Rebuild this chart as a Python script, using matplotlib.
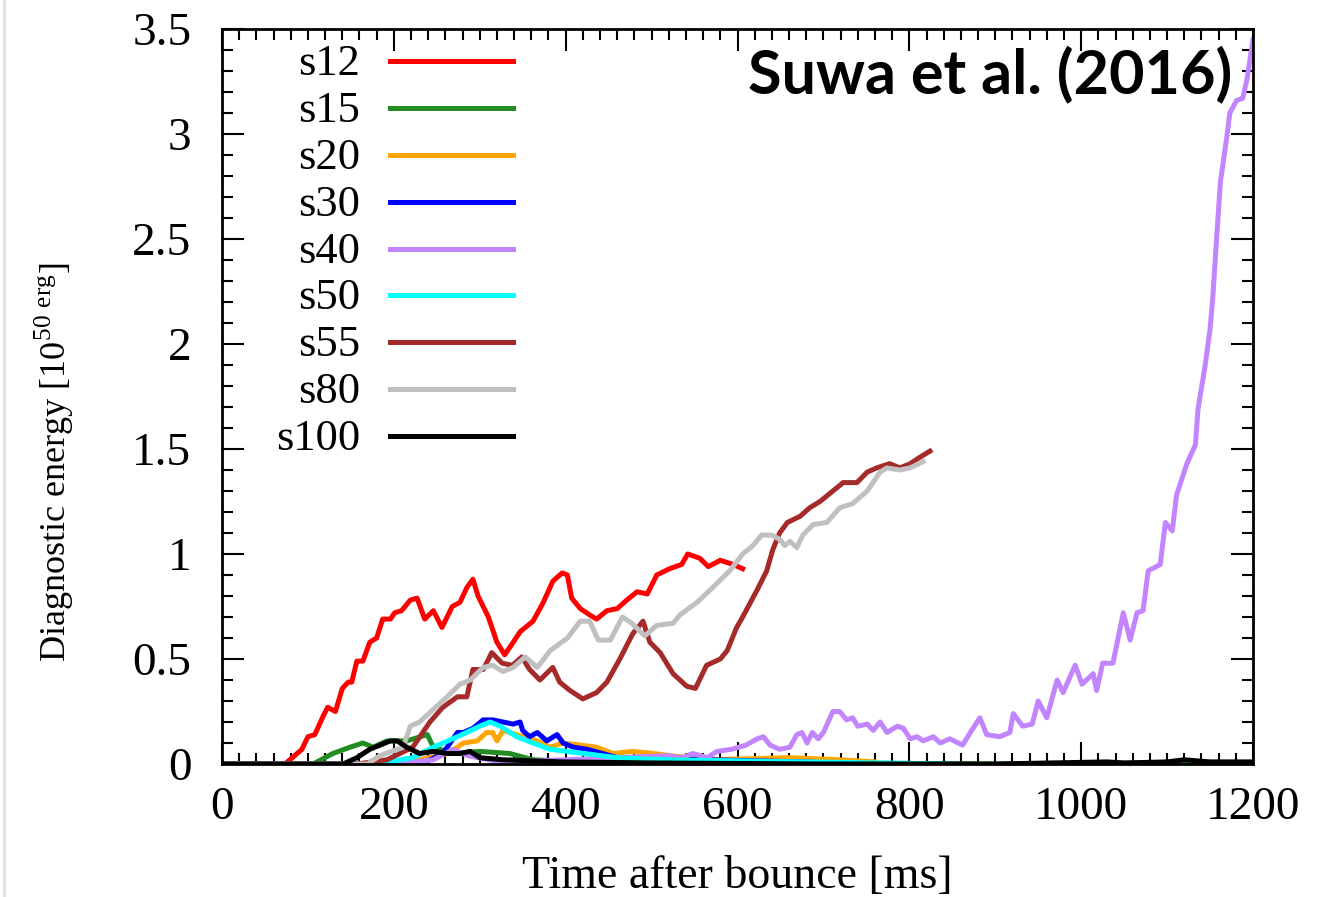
import matplotlib
matplotlib.use('Agg')
import matplotlib.pyplot as plt
from matplotlib.lines import Line2D
from matplotlib.ticker import MultipleLocator

plt.rcParams['font.family'] = ['Liberation Serif', 'DejaVu Serif']
plt.rcParams['mathtext.fontset'] = 'custom'
plt.rcParams['mathtext.rm'] = 'Liberation Serif'

# Diagnostic energy [1e50 erg] vs time after bounce [ms]
s12_t = [0, 73, 79, 93, 100, 108, 118, 123, 132, 140, 147, 151, 157, 164, 172, 180, 187, 196, 201, 209,
         219, 227, 236, 246, 256, 268, 277, 285, 292, 298, 310, 320, 329, 339, 347, 362, 374, 385, 396, 402,
         407, 417, 428, 436, 448, 460, 471, 483, 495, 506, 521, 535, 542, 556, 566, 580, 595, 606]
s12_e = [0, 0, 0.02, 0.07, 0.13, 0.14, 0.23, 0.27, 0.25, 0.36, 0.39, 0.39, 0.49, 0.49, 0.58, 0.60, 0.69, 0.69, 0.72, 0.73,
         0.78, 0.79, 0.69, 0.73, 0.65, 0.75, 0.77, 0.84, 0.88, 0.80, 0.70, 0.58, 0.52, 0.58, 0.63, 0.68, 0.77, 0.87, 0.91, 0.90,
         0.79, 0.74, 0.71, 0.69, 0.73, 0.74, 0.78, 0.82, 0.81, 0.90, 0.93, 0.95, 1.00, 0.98, 0.94, 0.97, 0.95, 0.93]

s15_t = [0, 106, 129, 149, 164, 176, 192, 215, 239, 246, 269, 300, 335, 362, 420, 520, 700, 900, 1100, 1200]
s15_e = [0, 0.0, 0.05, 0.08, 0.10, 0.08, 0.11, 0.11, 0.14, 0.08, 0.05, 0.06, 0.05, 0.02, 0.01, 0.01, 0.005, 0.0, 0.005, 0.0]

s20_t = [0, 215, 230, 262, 274, 281, 297, 308, 315, 320, 327, 335, 350, 367, 382, 397, 417, 436, 455, 478,
         502, 521, 565, 661, 719, 760]
s20_e = [0, 0, 0.02, 0.05, 0.08, 0.10, 0.11, 0.15, 0.15, 0.11, 0.16, 0.15, 0.13, 0.11, 0.08, 0.10, 0.09, 0.08, 0.05, 0.06,
         0.05, 0.04, 0.02, 0.03, 0.02, 0.01]

s30_t = [0, 230, 242, 257, 274, 281, 292, 304, 315, 327, 339, 347, 350, 358, 367, 378, 390, 397, 409, 425,
         443, 460, 478, 571, 673, 740]
s30_e = [0, 0, 0.02, 0.05, 0.15, 0.15, 0.17, 0.21, 0.21, 0.20, 0.19, 0.20, 0.16, 0.13, 0.15, 0.11, 0.14, 0.10, 0.08, 0.07,
         0.05, 0.03, 0.03, 0.02, 0.01, 0.0]

s40_t = [0, 200, 246, 269, 286, 323, 400, 460, 517, 535, 548, 565, 576, 593, 610, 623, 630, 638, 649, 661,
         669, 675, 681, 687, 694, 700, 711, 719, 727, 734, 740, 751, 758, 766, 774, 786, 793, 801, 809, 816,
         828, 836, 847, 862, 871, 882, 890, 905, 917, 921, 932, 943, 950, 960, 972, 979, 993, 1001, 1014, 1018,
         1025, 1037, 1049, 1057, 1065, 1072, 1078, 1092, 1098, 1106, 1111, 1123, 1133, 1136, 1144, 1150, 1153, 1156, 1162, 1170,
         1173, 1181, 1188, 1193, 1200]
s40_e = [0, 0, 0.02, 0.07, 0.04, 0.01, 0.02, 0.03, 0.04, 0.03, 0.05, 0.03, 0.06, 0.07, 0.09, 0.12, 0.13, 0.09, 0.07, 0.08,
         0.14, 0.15, 0.10, 0.15, 0.12, 0.15, 0.25, 0.25, 0.21, 0.22, 0.18, 0.19, 0.16, 0.20, 0.15, 0.18, 0.17, 0.12, 0.13, 0.11,
         0.13, 0.10, 0.12, 0.09, 0.15, 0.22, 0.14, 0.13, 0.15, 0.24, 0.18, 0.19, 0.30, 0.22, 0.40, 0.34, 0.47, 0.38, 0.43, 0.35,
         0.48, 0.48, 0.72, 0.59, 0.72, 0.73, 0.92, 0.95, 1.15, 1.11, 1.28, 1.43, 1.52, 1.69, 1.89, 2.07, 2.21, 2.40, 2.77, 3.00,
         3.10, 3.16, 3.17, 3.26, 3.45]

s50_t = [0, 190, 207, 222, 246, 274, 300, 312, 324, 343, 362, 382, 402, 460, 518, 681, 850]
s50_e = [0, 0, 0.02, 0.03, 0.08, 0.13, 0.18, 0.20, 0.18, 0.13, 0.10, 0.07, 0.06, 0.03, 0.02, 0.01, 0.0]

s55_t = [0, 150, 157, 192, 222, 242, 257, 274, 285, 292, 304, 314, 326, 338, 349, 358, 370, 385, 393, 405,
         420, 436, 448, 463, 478, 490, 498, 510, 525, 541, 551, 564, 580, 588, 599, 606, 623, 634, 641, 649,
         658, 673, 684, 696, 711, 723, 739, 751, 762, 777, 789, 801, 812, 824]
s55_e = [0, 0, 0.00, 0.02, 0.08, 0.20, 0.27, 0.32, 0.32, 0.45, 0.45, 0.53, 0.48, 0.47, 0.51, 0.45, 0.40, 0.46, 0.39, 0.35,
         0.31, 0.34, 0.39, 0.50, 0.62, 0.68, 0.58, 0.53, 0.43, 0.37, 0.36, 0.47, 0.50, 0.54, 0.65, 0.70, 0.83, 0.92, 1.02, 1.10,
         1.15, 1.18, 1.22, 1.25, 1.30, 1.34, 1.34, 1.39, 1.41, 1.43, 1.41, 1.43, 1.46, 1.49]

s80_t = [0, 155, 169, 184, 211, 219, 230, 246, 262, 277, 289, 304, 315, 327, 339, 353, 367, 382, 402, 417,
         428, 438, 452, 466, 477, 492, 506, 525, 533, 553, 571, 591, 606, 618, 628, 640, 649, 655, 661, 669,
         676, 688, 704, 719, 734, 751, 766, 774, 789, 801, 816]
s80_e = [0, 0, 0.00, 0.04, 0.08, 0.18, 0.20, 0.26, 0.32, 0.38, 0.40, 0.46, 0.47, 0.44, 0.46, 0.51, 0.46, 0.54, 0.60, 0.68,
         0.68, 0.59, 0.59, 0.70, 0.67, 0.61, 0.66, 0.67, 0.71, 0.77, 0.84, 0.92, 1.00, 1.04, 1.09, 1.09, 1.07, 1.04, 1.06, 1.03,
         1.09, 1.14, 1.15, 1.22, 1.24, 1.30, 1.39, 1.41, 1.40, 1.41, 1.44]

s100_t = [0, 130, 141, 157, 172, 184, 196, 204, 215, 230, 246, 262, 277, 289, 300, 327, 397, 500, 700, 900,
          1030, 1050, 1100, 1120, 1150, 1200]
s100_e = [0, 0, 0.0, 0.03, 0.07, 0.09, 0.11, 0.11, 0.08, 0.05, 0.06, 0.05, 0.05, 0.06, 0.03, 0.02, 0.01, 0.005, 0.0, 0.0,
          0.01, 0.005, 0.01, 0.02, 0.01, 0.01]

labels = ['s12', 's15', 's20', 's30', 's40', 's50', 's55', 's80', 's100']
colors = ['#ff0000', '#228b22', '#ffa500', '#0000ff', '#c285ff', '#00ffff', '#a52a2a', '#c0c0c0', '#000000']
series = [(s12_t, s12_e), (s15_t, s15_e), (s20_t, s20_e), (s30_t, s30_e), (s40_t, s40_e),
          (s50_t, s50_e), (s55_t, s55_e), (s80_t, s80_e), (s100_t, s100_e)]

fig = plt.figure(figsize=(13.37, 8.97), dpi=100)
ax = fig.add_axes([222 / 1337, 133 / 897, 1031 / 1337, 735 / 897])

for (t, e), c in zip(series, colors):
    ax.plot(t, e, color=c, lw=3.6, solid_joinstyle='round')

ax.set_xlim(0, 1200)
ax.set_ylim(0, 3.5)
ax.xaxis.set_major_locator(MultipleLocator(200))
ax.xaxis.set_minor_locator(MultipleLocator(20))
ax.yaxis.set_major_locator(MultipleLocator(0.5))
ax.yaxis.set_minor_locator(MultipleLocator(0.1))
ax.yaxis.set_major_formatter(plt.FuncFormatter(lambda v, p: f'{v:g}'))
ax.tick_params(which='both', direction='in', top=True, right=True, labelsize=34, width=1.5)
ax.tick_params(which='major', length=16, pad=16)
ax.tick_params(which='minor', length=8)
ax.tick_params(axis='y', which='major', pad=22)
for s in ax.spines.values():
    s.set_linewidth(2.0)

ax.set_xlabel('Time after bounce [ms]', fontsize=33)
ax.xaxis.set_label_coords(0.5, -0.125)
ax.set_ylabel(r'Diagnostic energy [10$^{\mathrm{50\ erg}}$]', fontsize=26)
ax.yaxis.set_label_coords(-0.142, 0.41)

# legend: right-aligned names, sample lines to the right
for i, (lab, c) in enumerate(zip(labels, colors)):
    y = 0.952 - i * 0.0637
    ax.text(0.134, y, lab, transform=ax.transAxes, ha='right', va='center', fontsize=32)
    ax.plot([0.163, 0.282], [y + 0.004, y + 0.004], transform=ax.transAxes, color=c, lw=3.6)

ax.text(0.98, 0.938, 'Suwa et al. (2016)', transform=ax.transAxes, ha='right', va='center',
        fontsize=44, fontweight='bold', family=['Lato', 'DejaVu Sans'])

fig.add_artist(Line2D([4 / 1337, 4 / 1337], [0, 1], color='#dddddd', lw=2))

fig.savefig('out.png', dpi=100)
